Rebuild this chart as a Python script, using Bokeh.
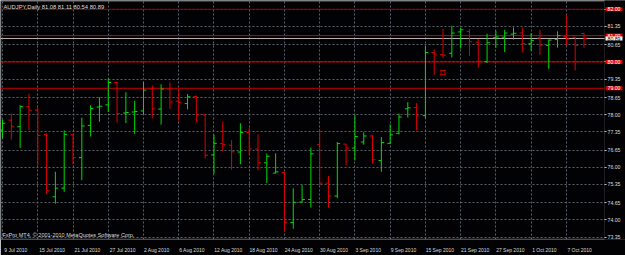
from bokeh.plotting import figure
from bokeh.models import (Range1d, FixedTicker, PrintfTickFormatter, CustomJSTickFormatter,
                          Label, ColumnDataSource, BoxAnnotation)
from bokeh.embed import file_html
from bokeh.resources import INLINE

symbol = "AUDJPY"
timeframe = "Daily"

opens = [77.41, 77.79, 77.54, 78.30, 78.17, 77.25, 74.88, 75.21, 77.23, 76.37,
         77.59, 78.29, 78.37, 79.22, 78.06, 78.10, 78.14, 78.97, 78.21, 78.97,
         78.51, 78.42, 78.69, 77.99, 76.47, 76.90, 76.84, 76.58, 77.32, 76.69,
         76.17, 75.78, 75.80, 73.90, 74.68, 74.78, 76.86, 75.40, 74.91, 76.88,
         76.73, 76.96, 77.19, 76.26, 76.91, 77.29, 78.22, 78.27, 77.96, 80.36,
         80.28, 80.33, 81.14, 81.16, 80.75, 80.01, 80.92, 80.94, 81.06, 81.10,
         80.69, 80.91, 80.63, 80.85, 80.97, 80.94, 81.08]
highs = [77.81, 78.04, 78.36, 78.80, 78.26, 77.30, 75.83, 77.40, 77.25, 77.89,
         78.36, 78.66, 79.37, 79.25, 78.85, 78.53, 79.25, 79.11, 79.15, 79.22,
         78.97, 78.78, 78.73, 78.01, 77.23, 77.74, 77.03, 77.67, 77.49, 77.25,
         76.52, 76.53, 75.83, 75.20, 75.32, 76.75, 77.46, 75.67, 76.96, 76.88,
         77.99, 77.33, 77.23, 77.15, 77.63, 78.04, 78.47, 78.44, 80.61, 80.48,
         81.25, 81.37, 81.29, 81.25, 80.88, 81.07, 81.19, 81.22, 81.31, 81.31,
         81.10, 81.22, 80.85, 81.16, 81.80, 80.95, 81.11]
lows = [77.11, 77.05, 76.74, 77.42, 76.07, 74.99, 74.62, 75.07, 76.12, 75.51,
        77.17, 77.73, 78.10, 77.70, 77.68, 77.27, 78.01, 77.86, 77.62, 78.22,
        77.77, 78.20, 77.70, 76.34, 75.75, 76.59, 75.91, 76.12, 76.47, 75.89,
        75.40, 75.77, 73.56, 73.67, 74.66, 74.47, 75.30, 74.46, 74.83, 76.07,
        76.26, 76.86, 76.14, 75.83, 76.88, 77.25, 77.89, 77.40, 77.86, 79.52,
        80.14, 80.17, 80.51, 80.23, 79.78, 79.96, 80.54, 80.38, 80.85, 80.36,
        80.42, 80.26, 79.74, 80.54, 80.60, 79.68, 80.54]
closes = [77.67, 77.56, 78.30, 78.17, 77.21, 75.11, 75.21, 77.25, 76.37, 77.57,
          78.23, 78.32, 79.22, 78.04, 78.08, 78.12, 78.93, 78.22, 78.97, 78.48,
          78.47, 78.68, 77.99, 76.46, 76.91, 76.86, 76.59, 77.32, 76.70, 76.17,
          76.42, 75.83, 73.91, 74.67, 74.78, 76.51, 75.40, 74.91, 76.90, 76.73,
          77.17, 77.19, 76.29, 76.94, 77.23, 77.91, 78.26, 77.95, 80.36, 80.30,
          80.26, 81.10, 81.22, 80.77, 80.03, 80.73, 80.95, 81.10, 81.09, 80.70,
          80.81, 80.64, 80.83, 81.00, 80.88, 80.63, 80.89]

date_tick_idx = [0, 4, 8, 12, 16, 20, 24, 28, 32, 36, 40, 44, 48, 52, 56, 60, 64]
date_labels = ["9 Jul 2010", "15 Jul 2010", "21 Jul 2010", "27 Jul 2010", "2 Aug 2010",
               "6 Aug 2010", "12 Aug 2010", "18 Aug 2010", "24 Aug 2010", "30 Aug 2010",
               "3 Sep 2010", "9 Sep 2010", "15 Sep 2010", "21 Sep 2010", "27 Sep 2010",
               "1 Oct 2010", "7 Oct 2010"]
price_ticks = [73.35, 74.00, 74.65, 75.35, 76.00, 76.65, 77.35, 78.00, 78.65,
               79.35, 80.00, 80.65, 81.35, 82.00]
level_lines = [82.00, 81.00, 80.00, 79.00]
signal_bar = [50]
signal_price = [79.60]
copyright_text = "FxPro MT4, \u00a9 2001-2010 MetaQuotes Software Corp."

GREEN = "#00dd00"
RED = "#dd0000"
TXT = "#dcdcdc"
BORDER = "#c0c0c0"
BG = "#020204"
FONT = "Liberation Sans"

# ---- scales (layout) ----
W, H = 625, 255
chart_w = 604            # px width of the bar area; price scale sits to its right
plot_h = 245             # px height of frame
px_per_bar = 8.81
px_per_unit = 27.0
x0 = -0.23
x_edge = x0 + chart_w / px_per_bar
x_end = x0 + W / px_per_bar
y_top = 78.0 + 117 / px_per_unit
y_bot = y_top - plot_h / px_per_unit

n = len(opens)
xs = list(range(n))
colors = [GREEN if c >= o else RED for o, c in zip(opens, closes)]
tick_len = 0.32
src = ColumnDataSource(dict(x=xs, o=opens, h=highs, l=lows, c=closes,
                            xl=[i - tick_len for i in xs], xr=[i + tick_len for i in xs],
                            color=colors))

p = figure(width=W, height=H, output_backend="svg", toolbar_location=None,
           x_range=Range1d(x0, x_end), y_range=Range1d(y_bot, y_top),
           y_axis_location="right",
           min_border_left=0, min_border_right=0, min_border_top=0, min_border_bottom=H - plot_h,
           background_fill_color=BG, border_fill_color=BG, outline_line_color=None)

# grid
p.xgrid.ticker = FixedTicker(ticks=date_tick_idx)
for g in (p.xgrid, p.ygrid):
    g.grid_line_color = "#56606c"
    g.grid_line_dash = "2 2"
    g.grid_line_width = 1

# hide grid in the price-scale strip
p.quad(left=[x_edge], right=[x_end + 1], bottom=[y_bot - 1], top=[y_top + 1],
       fill_color=BG, line_color=None)

# x axis: labels start right after the tick (MT4 style)
shifted = [i + (1.5 + 1.175 * len(lbl)) / px_per_bar for i, lbl in zip(date_tick_idx, date_labels)]
xa = p.xaxis[0]
xa.ticker = FixedTicker(ticks=shifted)
xa.formatter = CustomJSTickFormatter(args=dict(labels=date_labels), code="return labels[index];")
xa.axis_line_color = None
xa.major_tick_line_color = None
xa.minor_tick_line_color = None
xa.major_label_text_color = TXT
xa.major_label_text_font = FONT
xa.major_label_text_font_size = "5px"
xa.major_label_standoff = 1

ya = p.yaxis[0]
ya.fixed_location = x_edge
ya.ticker = FixedTicker(ticks=price_ticks)
ya.formatter = PrintfTickFormatter(format="%.2f")
ya.axis_line_color = None
ya.major_tick_line_color = BORDER
ya.major_tick_out = 2
ya.major_tick_in = 0
ya.minor_tick_line_color = None
ya.major_label_text_color = TXT
ya.major_label_text_font = FONT
ya.major_label_text_font_size = "5.2px"
ya.major_label_standoff = 1

# chart border
p.add_layout(BoxAnnotation(left=x0 + 0.5 / px_per_bar, right=x_edge,
                           top=y_top - 1 / px_per_unit, bottom=y_bot + 0.5 / px_per_unit,
                           fill_color=None, line_color=BORDER, line_width=1, level="underlay"))

# level lines and current price line (bar area only)
lv_colors = ["#8b0000" if lv == max(level_lines) else "#c80000" for lv in level_lines]
p.segment(x0=[x0] * len(level_lines), y0=level_lines, x1=[x_edge] * len(level_lines), y1=level_lines,
          line_color=lv_colors, line_width=1)
p.segment(x0=[x0], y0=[closes[-1]], x1=[x_edge], y1=[closes[-1]], line_color="#b4b4b4", line_width=1)

# OHLC bars
p.segment(x0="x", y0="l", x1="x", y1="h", line_color="color", line_width=1, source=src)
p.segment(x0="xl", y0="o", x1="x", y1="o", line_color="color", line_width=1, source=src)
p.segment(x0="x", y0="c", x1="xr", y1="c", line_color="color", line_width=1, source=src)

p.scatter(signal_bar, signal_price, marker="square_pin", size=5, fill_color=None,
          line_color="#cc0000", line_width=1)

# level labels on the price scale
pad = dict(left=2, right=2, top=0, bottom=0)
for lv in level_lines:
    p.add_layout(Label(x=x_edge, y=lv, text=f"{lv:.2f}", x_offset=1, text_align="left",
                       text_baseline="middle", text_color="white", text_font=FONT,
                       text_font_size="5.2px", background_fill_color="#dd0000", padding=pad,
                       level="overlay"))
p.add_layout(Label(x=x_edge, y=closes[-1], text=f"{closes[-1]:.2f}", x_offset=1, text_align="left",
                   text_baseline="middle", text_color="black", text_font=FONT,
                   text_font_size="5.2px", background_fill_color="white", padding=pad,
                   level="overlay"))

title = f"{symbol},{timeframe}  {opens[-1]:.2f} {highs[-1]:.2f} {lows[-1]:.2f} {closes[-1]:.2f}"
p.add_layout(Label(x=x0, y=y_top, text=title, x_offset=3, y_offset=-3, text_align="left",
                   text_baseline="top", text_color=TXT, text_font=FONT, text_font_size="5.8px"))
p.add_layout(Label(x=x0, y=y_bot, text=copyright_text, x_offset=2, y_offset=2, text_align="left",
                   text_baseline="bottom", text_color=TXT, text_font=FONT, text_font_size="5.5px"))

open("out.html", "w").write(file_html(p, INLINE))
